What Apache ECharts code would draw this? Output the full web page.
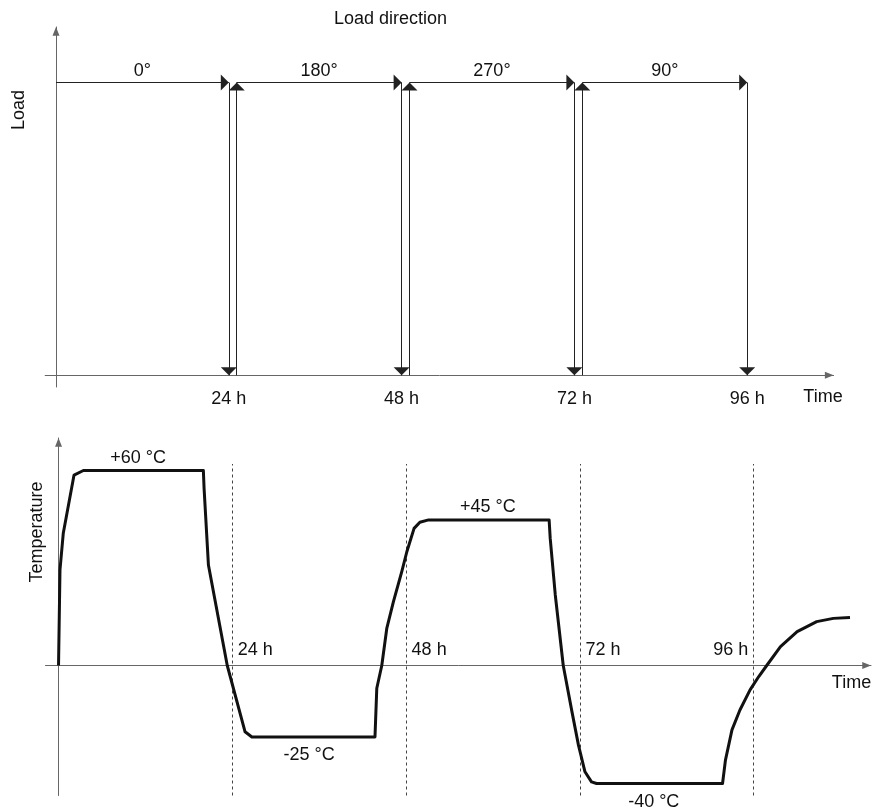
<!DOCTYPE html>
<html>
<head>
<meta charset="utf-8">
<title>Load direction and temperature cycle</title>
<script src="https://cdn.jsdelivr.net/npm/echarts@6/dist/echarts.min.js"></script>
<style>
  html, body { margin: 0; padding: 0; background: #fff; }
  #chart { width: 873px; height: 811px; }
</style>
</head>
<body>
<div id="chart"></div>
<script>
// load phases (hours), one direction each
var loadDirections = ['0°', '180°', '270°', '90°'];
var phaseStart = [0, 25.1, 49.1, 73.1];
var phaseEnd = [24, 48, 72, 96];
var loadLevel = 1;

// time marks
var hourTicks = [24, 48, 72, 96];

// temperature profile (h, °C)
var tempTime = [0, 0.2, 0.66, 2.14, 3.43, 20.0, 20.1, 20.7, 23.3, 25.76, 26.7,
  43.7, 43.95, 44.64, 45.33, 46.24, 47.4, 48.1, 49.1, 49.9, 51.1,
  67.75, 67.9, 68.6, 69.7, 70.9, 71.8, 72.7, 73.6, 74.3,
  91.7, 92.1, 93.0, 94.1, 95.5, 96.7, 97.8, 99.7, 102.0, 104.7, 107.0, 109.3];
var tempValue = [0, 29.4, 40.8, 58.6, 60, 60, 54.5, 30.9, 0, -20.4, -22,
  -22, -7, 0, 11.4, 19.6, 28.9, 35, 42.2, 44.1, 44.8,
  44.8, 39.1, 21.7, 0, -14.2, -24.5, -32.7, -35.8, -36.3,
  -36.3, -29.1, -19.8, -13.7, -7.5, -3.4, 0, 5.8, 10.4, 13.5, 14.5, 14.8];

// plateau annotations
var plateauTime = [11.0, 34.6, 59.3, 82.2];
var plateauTemp = [60, -22, 44.8, -36.3];
var plateauText = ['+60 °C', '-25 °C', '+45 °C', '-40 °C'];

// dashed guides top (°C)
var guideTop = 62;

var font = 'Liberation Sans, Arial, sans-serif';
var textColor = '#111';
var axisColor = '#666';
var arrowColor = '#222';
// triangle whose tip sits at the centre of its box, so the tip lands on the end point
var arrowHead = 'path://M0,0M0,10L4,20L-4,20Z';

var chart = echarts.init(document.getElementById('chart'));

var loadArrows = [];
for (var i = 0; i < loadDirections.length; i++) {
  loadArrows.push({
    name: loadDirections[i],
    coords: [[phaseStart[i], loadLevel], [phaseEnd[i], loadLevel]],
    label: { show: true }
  });
  loadArrows.push({ coords: [[phaseEnd[i], loadLevel], [phaseEnd[i], 0]] });
  if (i > 0) {
    loadArrows.push({ coords: [[phaseStart[i], 0], [phaseStart[i], loadLevel]] });
  }
}

var guides = hourTicks.map(function (h) {
  return { coords: [[h, -40], [h, guideTop]] };
});

var hourLabels = hourTicks.map(function (h, i) {
  var last = i === hourTicks.length - 1;
  return {
    name: h + ' h',
    value: [h, 0],
    label: { position: last ? [-5, -24] : [6, -24], align: last ? 'right' : 'left' }
  };
});

var plateauLabels = plateauTime.map(function (t, i) {
  var up = plateauTemp[i] > 0;
  return {
    name: plateauText[i],
    value: [t, plateauTemp[i]],
    label: { position: up ? 'top' : 'bottom', distance: up ? 3 : 9 }
  };
});

var tempData = tempTime.map(function (t, i) { return [t, tempValue[i]]; });

function axisLineStyle() {
  return {
    show: true,
    onZero: true,
    symbol: ['none', arrowHead],
    symbolSize: [7, 18],
    lineStyle: { color: axisColor, width: 1 }
  };
}

var textLabel = { show: true, formatter: '{b}', fontFamily: font, fontSize: 18, color: textColor, opacity: 1 };

chart.setOption({
  animation: false,
  backgroundColor: '#fff',
  textStyle: { fontFamily: font, color: textColor },
  title: {
    text: 'Load direction',
    left: 334,
    top: 10,
    padding: 0,
    textStyle: { fontFamily: font, fontSize: 18, fontWeight: 'normal', color: textColor }
  },
  grid: [
    { left: 45.2, width: 788.4, top: 27, height: 360, outerBoundsMode: 'none' },
    { left: 45.5, width: 825.5, top: 438, height: 357.5, outerBoundsMode: 'none' }
  ],
  xAxis: [{
    gridIndex: 0,
    type: 'value',
    min: -1.5,
    max: 108,
    name: 'Time',
    nameLocation: 'end',
    nameGap: -10.6,
    nameMoveOverlap: false,
    nameTextStyle: { fontFamily: font, fontSize: 18, color: textColor, align: 'center', verticalAlign: 'top', padding: [13, 0, 0, 0] },
    axisLine: axisLineStyle(),
    axisTick: { show: false },
    splitLine: { show: false },
    axisLabel: {
      customValues: hourTicks,
      formatter: '{value} h',
      margin: 3,
      fontFamily: font,
      fontSize: 18,
      color: textColor
    }
  }, {
    gridIndex: 1,
    type: 'value',
    min: -1.8,
    max: 112.2,
    name: 'Time',
    nameLocation: 'end',
    nameGap: -19.5,
    nameMoveOverlap: false,
    nameTextStyle: { fontFamily: font, fontSize: 18, color: textColor, align: 'center', verticalAlign: 'top', padding: [9, 0, 0, 0] },
    axisLine: axisLineStyle(),
    axisTick: { show: false },
    splitLine: { show: false },
    axisLabel: { show: false }
  }],
  yAxis: [{
    gridIndex: 0,
    type: 'value',
    min: -0.04,
    max: 1.19,
    name: 'Load',
    nameLocation: 'end',
    nameGap: -83,
    nameRotate: 90,
    nameMoveOverlap: false,
    nameTextStyle: { fontFamily: font, fontSize: 18, color: textColor, align: 'center', verticalAlign: 'bottom', padding: [0, 0, 28, 0] },
    axisLine: axisLineStyle(),
    axisTick: { show: false },
    splitLine: { show: false },
    axisLabel: { show: false }
  }, {
    gridIndex: 1,
    type: 'value',
    min: -40,
    max: 70,
    name: 'Temperature',
    nameLocation: 'end',
    nameGap: -94,
    nameRotate: 90,
    nameMoveOverlap: false,
    nameTextStyle: { fontFamily: font, fontSize: 18, color: textColor, align: 'center', verticalAlign: 'bottom', padding: [0, 0, 13, 0] },
    axisLine: axisLineStyle(),
    axisTick: { show: false },
    splitLine: { show: false },
    axisLabel: { show: false }
  }],
  series: [{
    name: 'Load direction',
    type: 'lines',
    coordinateSystem: 'cartesian2d',
    xAxisIndex: 0,
    yAxisIndex: 0,
    symbol: ['none', arrowHead],
    symbolSize: [6, 16],
    silent: true,
    lineStyle: { color: arrowColor, width: 1, opacity: 1 },
    label: {
      show: false,
      position: 'middle',
      distance: 3,
      formatter: '{b}',
      fontFamily: font,
      fontSize: 18,
      color: textColor
    },
    data: loadArrows
  }, {
    name: 'Day marks',
    type: 'lines',
    coordinateSystem: 'cartesian2d',
    xAxisIndex: 1,
    yAxisIndex: 1,
    symbol: ['none', 'none'],
    silent: true,
    lineStyle: { color: '#444', width: 1, type: [3, 3], opacity: 1 },
    data: guides
  }, {
    name: 'Temperature',
    type: 'line',
    xAxisIndex: 1,
    yAxisIndex: 1,
    symbol: 'none',
    showSymbol: false,
    silent: true,
    lineStyle: { color: '#111', width: 3, join: 'round' },
    data: tempData
  }, {
    name: 'Hour labels',
    type: 'scatter',
    xAxisIndex: 1,
    yAxisIndex: 1,
    symbolSize: 1,
    silent: true,
    itemStyle: { color: 'rgba(0,0,0,0)', opacity: 1 },
    label: Object.assign({ verticalAlign: 'top' }, textLabel),
    data: hourLabels
  }, {
    name: 'Plateaus',
    type: 'scatter',
    xAxisIndex: 1,
    yAxisIndex: 1,
    symbolSize: 1,
    silent: true,
    itemStyle: { color: 'rgba(0,0,0,0)', opacity: 1 },
    label: textLabel,
    data: plateauLabels
  }]
});
</script>
</body>
</html>
